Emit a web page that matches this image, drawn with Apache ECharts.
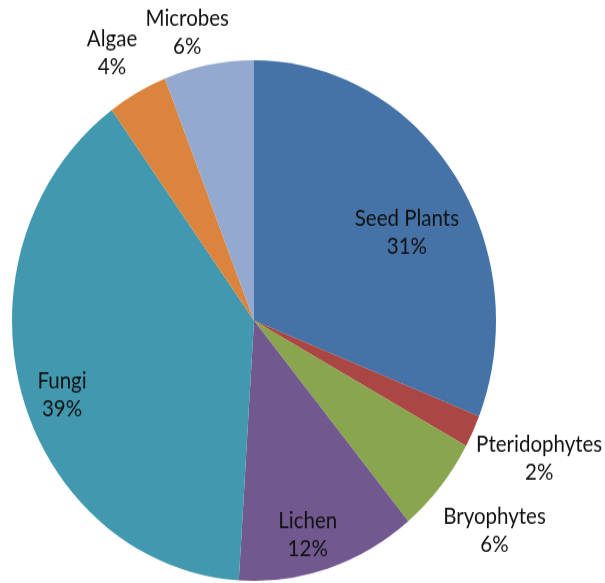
<!DOCTYPE html>
<html>
<head>
<meta charset="utf-8">
<script src="https://cdn.jsdelivr.net/npm/echarts@6/dist/echarts.min.js"></script>
<style>
html,body{margin:0;padding:0;background:#fff;overflow:hidden;}
#wrap{width:605px;height:583px;overflow:hidden;}
#chart{width:605px;height:542px;transform:scaleY(1.0757);transform-origin:0 0;}
</style>
</head>
<body>
<div id="wrap"><div id="chart"></div></div>
<script>
const categories = ['Seed Plants', 'Pteridophytes', 'Bryophytes', 'Lichen', 'Fungi', 'Algae', 'Microbes'];
const values = [31, 2, 6, 12, 39, 4, 6];
const colors = ['#4572A7', '#AA4643', '#89A54E', '#71588F', '#4198AF', '#DB843D', '#93A9CF'];
const insideLabels = ['Seed Plants', 'Lichen', 'Fungi'];
const labelOffsets = {
  'Seed Plants': [-15, 32],
  'Lichen': [-9, 6],
  'Fungi': [3, 13],
  'Pteridophytes': [11, -1],
  'Bryophytes': [7, 2],
  'Algae': [4, 17],
  'Microbes': [-10, 30]
};

const chart = echarts.init(document.getElementById('chart'), null, {renderer: 'canvas'});
const center = [254, 298];
const labelStyle = {
  color: '#111',
  fontFamily: 'Lato',
  fontSize: 20.5,
  lineHeight: 26,
  align: 'center'
};

function labelSeries(radius, inside) {
  return {
    type: 'pie',
    center: center,
    radius: radius,
    startAngle: 90,
    clockwise: true,
    silent: true,
    animation: false,
    emphasis: {disabled: true},
    itemStyle: {color: 'rgba(0,0,0,0)', borderWidth: 0},
    labelLine: {show: false},
    data: categories.map((c, i) => {
      const show = insideLabels.includes(c) === inside;
      return {
        name: c,
        value: values[i],
        label: Object.assign({
          show: show,
          position: 'inside',
          formatter: '{b}\n{c}%',
          offset: labelOffsets[c]
        }, labelStyle)
      };
    })
  };
}

chart.setOption({
  backgroundColor: '#fff',
  animation: false,
  series: [
    {
      type: 'pie',
      center: center,
      radius: [0, 242],
      startAngle: 90,
      clockwise: true,
      silent: true,
      emphasis: {disabled: true},
      label: {show: false},
      labelLine: {show: false},
      itemStyle: {borderWidth: 0},
      data: categories.map((c, i) => ({name: c, value: values[i], itemStyle: {color: colors[i]}}))
    },
    labelSeries([180, 220], true),
    labelSeries([290, 310], false)
  ]
});
</script>
</body>
</html>
